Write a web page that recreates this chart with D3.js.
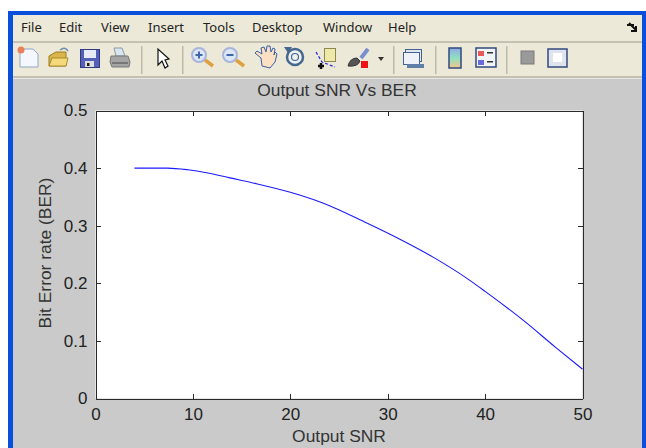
<!DOCTYPE html>
<meta charset="utf-8">
<style>
body { margin: 0; background: #fff; }
svg { display: block; }
.menu { font: 13px "Noto Sans", sans-serif; fill: #222; }
.axis text { font: 17px "Liberation Sans", sans-serif; fill: #222; }
.axis path, .axis line { fill: none; stroke: #2a2a2a; shape-rendering: crispEdges; }
.label { font: 17.4px "Liberation Sans", sans-serif; fill: #333; text-anchor: middle; }
</style>
<body>
<script src="https://d3js.org/d3.v7.min.js"></script>
<script>

var snr = [4, 7.4, 9.5, 11.4, 13.8, 16.5, 20, 23.4, 27.8, 31.3, 34.7, 38.1, 40, 43.9, 47.3, 50];
var ber = [0.4, 0.4, 0.397, 0.392, 0.383, 0.373, 0.358, 0.339, 0.305, 0.276, 0.245, 0.209, 0.186, 0.136, 0.088, 0.051];
var xTicks = [0, 10, 20, 30, 40, 50];
var yTicks = [0, 0.1, 0.2, 0.3, 0.4, 0.5];
var menuNames = ["File", "Edit", "View", "Insert", "Tools", "Desktop", "Window", "Help"];
var menuX = [21, 59, 101, 148, 203, 252, 323, 388];
var separators = [141, 182, 393, 435, 506];

var svg = d3.select("body").append("svg").attr("width", 646).attr("height", 448);

function rect(g, x, y, w, h, fill, stroke) {
  return g.append("rect").attr("x", x).attr("y", y).attr("width", w).attr("height", h)
    .attr("fill", fill).attr("stroke", stroke || "none");
}
function path(g, d, fill, stroke, sw) {
  return g.append("path").attr("d", d).attr("fill", fill).attr("stroke", stroke || "none").attr("stroke-width", sw || 1);
}

/* window frame */
rect(svg, 8, 11, 638, 437, "#0a4fdc");
rect(svg, 13, 15, 629, 433, "#cacaca");
rect(svg, 13, 15, 629, 26, "#ece9d8");
rect(svg, 13, 41, 629, 2, "#c4c1b2");
rect(svg, 13, 43, 629, 33, "#ece9d8");
rect(svg, 13, 76, 629, 2, "#c4c1b2");
rect(svg, 13, 78, 629, 1, "#e6e6e6");

svg.selectAll("text.menu").data(menuNames).enter().append("text")
  .attr("class", "menu")
  .attr("x", function (d, i) { return menuX[i]; })
  .attr("y", 32)
  .text(function (d) { return d; });

/* little dock arrow */
path(svg, "M627 25 L634 25 M629 23 L636 30 M636 26 L636 31 L631 31", "none", "#111", 2);

svg.selectAll("rect.sep").data(separators).enter().append("rect")
  .attr("class", "sep")
  .attr("x", function (d) { return d; })
  .attr("y", 46).attr("width", 1.5).attr("height", 28).attr("fill", "#bdbaa9");

/* toolbar icons */
var t = svg.append("g");
// new
path(t, "M20 49 L33 49 L38 54 L38 67 L20 67 Z", "#f4f7fd", "#8fa6c8");
t.append("circle").attr("cx", 21).attr("cy", 50).attr("r", 3.5).attr("fill", "#e8805a");
// open
path(t, "M49 56 L56 52 L66 52 L66 66 L49 66 Z", "#d9b54a", "#9a7d20");
path(t, "M49 66 L52 58 L68 58 L66 66 Z", "#f5d97a", "#a88a2a");
path(t, "M60 50 Q65 46 68 51", "none", "#6f8fa8", 1.5);
// save
rect(t, 80.5, 49.5, 19, 18, "#5560b8", "#2f3a80");
rect(t, 84, 50, 12, 8, "#e8ecf6");
rect(t, 85, 61, 9, 6, "#ddd");
rect(t, 87, 63, 2.5, 3, "#222");
// print
path(t, "M114 48 L122 48 L125 56 L116 56 Z", "#d8e4ee", "#8a9aa8");
path(t, "M111 56 L128 56 L130 62 L129 67 L112 67 L110 62 Z", "#a5a5a5", "#777");
rect(t, 112, 62, 16, 2, "#777");
// arrow pointer
path(t, "M158 49 L158 65 L162 61 L165 68 L168 66 L165 60 L169 59 Z", "#fff", "#111", 1.2);

function zoomIcon(x, sign) {
  path(t, "M" + (x + 6) + " 60 L" + (x + 14) + " 66", "none", "#e0a040", 3.5);
  t.append("circle").attr("cx", x).attr("cy", 55).attr("r", 7).attr("fill", "#dbe6f7").attr("stroke", "#a9b4da").attr("stroke-width", 2);
  rect(t, x - 3.5, 54, 7, 2, "#3f66a8");
  if (sign) rect(t, x - 1, 51.5, 2, 7, "#3f66a8");
}
zoomIcon(199, true);
zoomIcon(230, false);
// hand
path(t, "M261 58 L255 53 L257 51 L262 54 L261 48 L264 47 L266 52 L267 46 L270 46 L271 52 L273 48 L275 49 L274 55 L275 52 L277 54 L275 62 L270 68 L262 66 Z", "#fbe0c4", "#3a5fa8");
// rotate
t.append("circle").attr("cx", 295).attr("cy", 57).attr("r", 8).attr("fill", "#eef0f2").attr("stroke", "#44688f").attr("stroke-width", 2.5);
t.append("circle").attr("cx", 295).attr("cy", 57).attr("r", 3.5).attr("fill", "none").attr("stroke", "#44688f").attr("stroke-width", 1.2);
path(t, "M284 47 L292 47 L288 53 Z", "#44688f");
// data cursor
rect(t, 324.5, 48.5, 11, 13, "#eee9a8", "#8a8a50");
path(t, "M316 52 L322 62 L335 67", "none", "#2222dd", 1.2).attr("stroke-dasharray", "3 2");
path(t, "M321 63 L321 69 M318 66 L324 66", "none", "#111", 2.5);
// brush
path(t, "M361 58 L368 49", "none", "#7a8fd0", 4);
path(t, "M348 66 Q350 58 357 58 L360 61 Q358 67 348 66 Z", "#555", "#333");
rect(t, 361, 61, 7, 7, "#ee1111");
path(t, "M378 57 L384 57 L381 61 Z", "#333");
// link plot
rect(t, 405.5, 49.5, 16, 12, "#dfe6f2", "#44628f");
rect(t, 403.5, 52.5, 16, 12, "#eef2f8", "#44628f");
path(t, "M407 66 L416 66 M414 66 L424 66", "none", "#5f7fa8", 4);
// colorbar
var cb = svg.append("defs").append("linearGradient").attr("id", "cb").attr("x2", 0).attr("y2", 1);
cb.append("stop").attr("offset", 0).attr("stop-color", "#8faae8");
cb.append("stop").attr("offset", 0.5).attr("stop-color", "#8fe0c0");
cb.append("stop").attr("offset", 1).attr("stop-color", "#f6c58a");
rect(t, 449, 48, 12, 20, "url(#cb)", "#33497f").attr("stroke-width", 1.5);
// legend
rect(t, 476, 48, 20, 19, "#f0f3f8", "#33497f").attr("stroke-width", 1.5);
rect(t, 478, 51, 6, 5, "#e85a5a");
rect(t, 478, 60, 6, 5, "#6a6ae0");
rect(t, 487, 52, 6, 1.5, "#333");
rect(t, 487, 61, 6, 1.5, "#333");
// hide tools + show tools
rect(t, 521, 51, 13, 13, "#9a9a9a", "#7a7a7a");
rect(t, 548, 49, 19, 18, "#dfe3ee", "#33497f").attr("stroke-width", 1.5);
rect(t, 553, 53, 9, 9, "#fff");

/* plot */
var x = d3.scaleLinear().domain([0, 50]).range([95.5, 582.5]);
var y = d3.scaleLinear().domain([0, 0.5]).range([398.5, 110.5]);

rect(svg, 95.5, 110.5, 487, 288, "#fff");

svg.append("g").attr("class", "axis").attr("transform", "translate(0,398.5)")
  .call(d3.axisBottom(x).tickValues(xTicks).tickSizeOuter(0).tickSizeInner(-5).tickPadding(9).tickFormat(d3.format("d")));
svg.append("g").attr("class", "axis").attr("transform", "translate(95.5,0)")
  .call(d3.axisLeft(y).tickValues(yTicks).tickSizeOuter(0).tickSizeInner(-5).tickPadding(8).tickFormat(function (d) { return d === 0 ? "0" : d3.format(".1f")(d); }));
svg.append("g").attr("class", "axis").attr("transform", "translate(0,110.5)")
  .call(d3.axisTop(x).tickValues(xTicks).tickSizeOuter(0).tickSizeInner(-5).tickFormat(""));
svg.append("g").attr("class", "axis").attr("transform", "translate(582.5,0)")
  .call(d3.axisRight(y).tickValues(yTicks).tickSizeOuter(0).tickSizeInner(-5).tickFormat(""));

var line = d3.line()
  .x(function (d, i) { return x(d); })
  .y(function (d, i) { return y(ber[i]); })
  .curve(d3.curveMonotoneX);

svg.append("path")
  .attr("d", line(snr))
  .attr("fill", "none")
  .attr("stroke", "#1a1aff")
  .attr("stroke-width", 1.1);

svg.append("text").attr("class", "label").attr("x", 337).attr("y", 96).text("Output SNR Vs BER");
svg.append("text").attr("class", "label").attr("x", 339).attr("y", 442).text("Output SNR");
svg.append("text").attr("class", "label")
  .attr("transform", "translate(51,253) rotate(-90)").text("Bit Error rate (BER)");

</script>
